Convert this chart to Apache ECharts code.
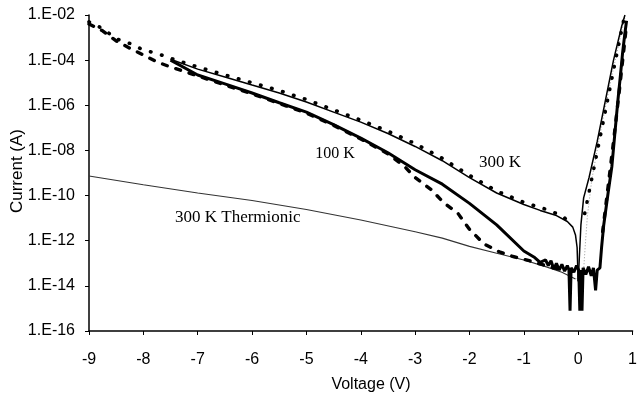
<!DOCTYPE html>
<html>
<head>
<meta charset="utf-8">
<script src="https://cdn.jsdelivr.net/npm/echarts@6/dist/echarts.min.js"></script>
<style>
html,body{margin:0;padding:0;background:#fff;}
#c{width:640px;height:397px;}
</style>
</head>
<body>
<div id="c"></div>
<script>
// ---- Data (Voltage in V, Current in A) ----
const xTicks = [-9,-8,-7,-6,-5,-4,-3,-2,-1,0,1];

// 300 K Thermionic (reverse branch, thin line)
const vTherm = [-9,-8,-7,-6,-5,-4,-3,-2.5,-2,-1.5,-1,-0.6,-0.3,-0.05];
const iTherm = [7.4e-10,3.0e-10,1.3e-10,6.0e-11,2.4e-11,8.3e-12,2.5e-12,1.3e-12,5.6e-13,2.8e-13,1.4e-13,7.1e-14,4.0e-14,2.0e-14];
// 300 K Thermionic (forward branch, faint dotted)
const vThermF = [-0.05,0.1,0.13,0.17,0.25,0.4,0.55,0.7,0.86];
const iThermF = [2.0e-14,5.0e-14,6.3e-13,1.3e-11,5.0e-10,5.0e-8,3.2e-6,1.6e-4,7.9e-3];

// 300 K measured (thin solid)
const v300 = [-7.5,-7,-6.5,-6,-5.5,-5,-4.5,-4,-3.5,-3,-2.5,-2,-1.5,-1,-0.7,-0.4,-0.2,-0.1,-0.05,-0.02,0];
const i300 = [1.1e-4,4.0e-5,1.8e-5,7.9e-6,3.5e-6,1.4e-6,5.0e-7,1.8e-7,5.6e-8,1.5e-8,3.5e-9,6.3e-10,1.3e-10,4.0e-11,2.2e-11,1.3e-11,7.1e-12,4.0e-12,1.8e-12,5.0e-13,1.6e-14];
const v300F = [0,0.02,0.05,0.1,0.2,0.35,0.5,0.65,0.8,0.86];
const i300F = [1.6e-14,1.6e-13,5.0e-12,7.9e-11,6.3e-10,2.5e-8,1.6e-6,1.0e-4,3.2e-3,1.0e-2];

// 300 K model (dotted)
const v300m = [-9,-8.75,-8.5,-8.25,-8,-7.75,-7.5,-7,-6.5,-6,-5.5,-5,-4.5,-4,-3.5,-3,-2.5,-2,-1.5,-1,-0.6,-0.3,-0.15];
const i300m = [5.0e-3,2.5e-3,8.9e-4,5.5e-4,2.8e-4,2.0e-4,1.2e-4,5.0e-5,2.2e-5,1.0e-5,4.5e-6,1.8e-6,6.3e-7,2.2e-7,7.1e-8,2.0e-8,4.5e-9,7.9e-10,1.6e-10,5.0e-11,2.5e-11,1.3e-11,6.3e-12];
const v300mF = [0.12,0.25,0.4,0.55,0.7,0.85];
const i300mF = [1.6e-11,5.6e-10,3.5e-8,2.2e-6,1.4e-4,8.5e-3];

// 100 K measured (thick solid, incl. noise floor)
const v100 = [-7.5,-7,-6.5,-6,-5.5,-5,-4.5,-4,-3.5,-3,-2.5,-2,-1.5,-1,-0.8,-0.7,-0.6,-0.55,-0.5,-0.45,-0.4,-0.35,-0.3,-0.25,-0.2,-0.17,-0.15,-0.13,-0.08,-0.03,0.01,0.03,0.05,0.07,0.09,0.14,0.19,0.24,0.28,0.32,0.35,0.4,0.43,0.47,0.55,0.62,0.68,0.73,0.78,0.82,0.86,0.89];
const i100 = [1.0e-4,2.2e-5,8.9e-6,3.5e-6,1.3e-6,5.0e-7,1.4e-7,3.5e-8,7.9e-9,1.4e-9,3.2e-10,4.5e-11,5.0e-12,3.5e-13,1.8e-13,1.1e-13,1.4e-13,7.9e-14,1.3e-13,5.6e-14,1.0e-13,5.0e-14,8.9e-14,4.5e-14,7.9e-14,5.0e-14,7.9e-16,6.3e-14,4.0e-14,7.9e-14,5.0e-14,7.9e-16,5.0e-14,7.9e-16,6.3e-14,3.2e-14,7.1e-14,2.8e-14,6.3e-14,6.3e-15,5.0e-14,6.3e-14,5.0e-13,5.0e-12,1.3e-10,2.0e-9,7.9e-8,1.6e-6,2.5e-5,2.5e-4,1.6e-3,5.6e-3];

// 100 K model (dashed)
const v100m = [-9,-8.75,-8.5,-8.25,-8,-7.75,-7.5,-7,-6.5,-6,-5.5,-5,-4.5,-4,-3.5,-3.2,-3,-2.7,-2.48,-2.21,-2,-1.73,-1.45,-1.2,-0.9,-0.6,-0.3];
const i100m = [4.0e-3,2.0e-3,7.1e-4,3.4e-4,1.7e-4,8.3e-5,5.0e-5,2.0e-5,7.9e-6,3.2e-6,1.2e-6,4.5e-7,1.3e-7,3.2e-8,7.1e-9,2.0e-9,6.3e-10,1.8e-10,5.0e-11,1.6e-11,3.2e-12,7.1e-13,3.2e-13,2.0e-13,1.3e-13,7.9e-14,5.0e-14];
const v100mF = [0.45,0.55,0.65,0.75,0.85,0.89];
const i100mF = [2.5e-12,2.5e-10,2.5e-8,3.2e-6,5.0e-4,4.0e-3];

const pairs = (xs, ys) => xs.map((x, k) => [x, ys[k]]);

function lineSeries(name, xs, ys, style, z) {
  return {
    name: name, type: 'line', data: pairs(xs, ys),
    showSymbol: false, symbol: 'none', smooth: false, z: z,
    lineStyle: style, animation: false
  };
}

const dotted300 = {color:'#000', width:3.6, type:[0.5,11], cap:'round'};
const dashed100 = {color:'#000', width:3.4, type:[5,9], cap:'round'};

const chart = echarts.init(document.getElementById('c'), null, {renderer:'canvas'});
chart.setOption({
  animation: false,
  backgroundColor: '#fff',
  grid: {left: 89, right: 2, top: 15, bottom: 66, containLabel: false},
  xAxis: {
    type: 'value', min: -9, max: 1, interval: 1,
    axisLine: {show: true, onZero: false, lineStyle: {color: '#000', width: 1.5}},
    axisTick: {show: true, inside: false, length: 4, lineStyle: {color: '#000', width: 1}},
    axisLabel: {color: '#000', fontSize: 16, fontFamily: 'Liberation Sans', margin: 21,
      formatter: v => String(v)},
    splitLine: {show: false}
  },
  yAxis: {
    type: 'log', logBase: 10, min: 1e-16, max: 1e-2, interval: 2,
    axisLine: {show: true, onZero: false, lineStyle: {color: '#000', width: 1.5}},
    axisTick: {show: true, inside: false, length: 4, lineStyle: {color: '#000', width: 1}},
    axisLabel: {color: '#000', fontSize: 16, fontFamily: 'Liberation Sans', margin: 14,
      formatter: v => {
        const e = Math.round(Math.log10(v));
        const a = Math.abs(e);
        return '1.E' + (e < 0 ? '-' : '+') + (a < 10 ? '0' + a : String(a));
      }},
    splitLine: {show: false}
  },
  series: [
    lineSeries('300 K Thermionic', vTherm, iTherm, {color:'#333', width:1.1}, 1),
    lineSeries('300 K Thermionic fwd', vThermF, iThermF, {color:'#999', width:1, type:[1,2]}, 1),
    lineSeries('300 K model', v300m, i300m, dotted300, 2),
    lineSeries('300 K model fwd', v300mF, i300mF, dotted300, 2),
    lineSeries('100 K model', v100m, i100m, dashed100, 2),
    lineSeries('100 K model fwd', v100mF, i100mF, dashed100, 2),
    lineSeries('300 K', v300, i300, {color:'#000', width:1.5}, 3),
    lineSeries('300 K fwd', v300F, i300F, {color:'#000', width:1.5}, 3),
    lineSeries('100 K', v100, i100, {color:'#000', width:3}, 3)
  ],
  graphic: [
    {type:'text', x: 17, y: 171, rotation: Math.PI/2, style:{text:'Current (A)', fill:'#000', font:'17px "Liberation Sans"', textAlign:'center', textVerticalAlign:'middle'}},
    {type:'text', x: 371, y: 385, style:{text:'Voltage (V)', fill:'#000', font:'16px "Liberation Sans"', textAlign:'center', textVerticalAlign:'middle'}},
    {type:'text', x: 335, y: 154, style:{text:'100 K', fill:'#000', font:'16px "Liberation Serif"', textAlign:'center', textVerticalAlign:'middle'}},
    {type:'text', x: 500, y: 163, style:{text:'300 K', fill:'#000', font:'17px "Liberation Serif"', textAlign:'center', textVerticalAlign:'middle'}},
    {type:'text', x: 175, y: 218, style:{text:'300 K Thermionic', fill:'#000', font:'17px "Liberation Serif"', textAlign:'left', textVerticalAlign:'middle'}}
  ]
});
</script>
</body>
</html>
